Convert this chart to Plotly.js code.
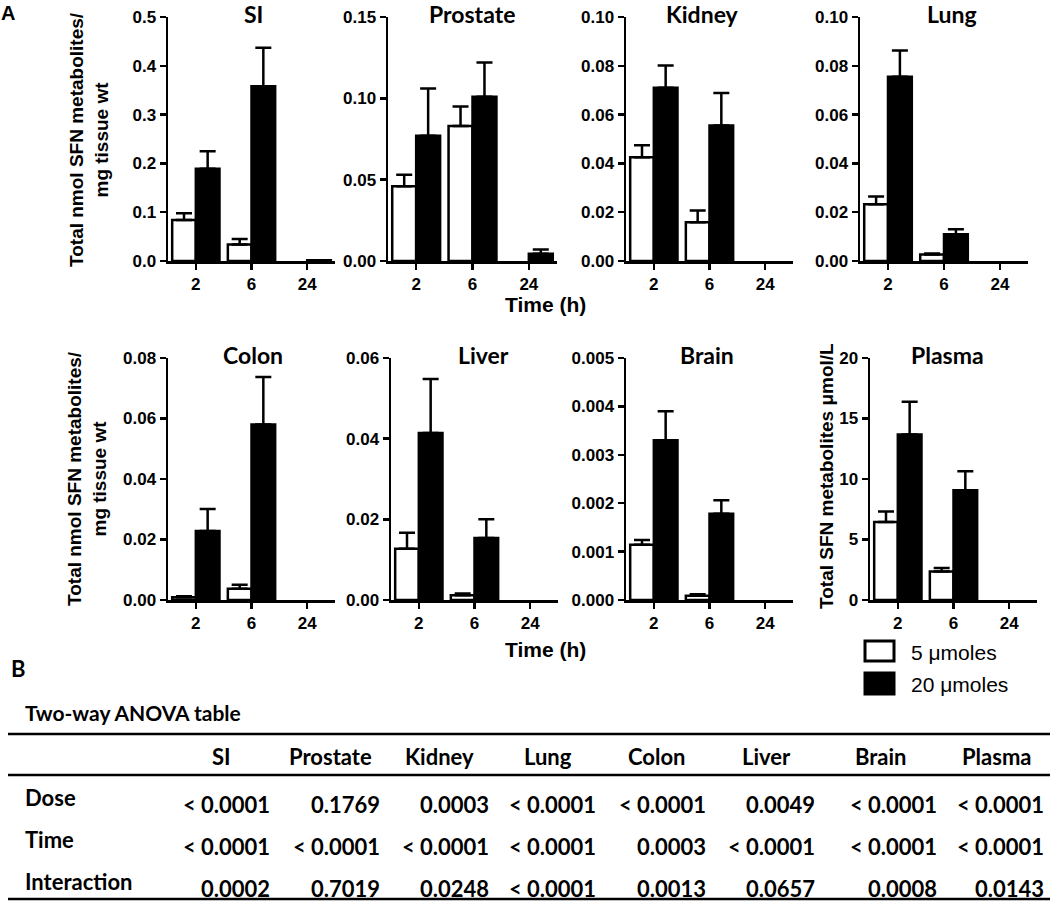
<!DOCTYPE html>
<html><head><meta charset="utf-8">
<script src="https://cdn.plot.ly/plotly-3.0.1.min.js"></script>
<style>body{margin:0;background:#fff}#chart{width:1050px;height:902px}</style>
</head><body><div id="chart"></div>
<script>
// ---------- DATA ----------
const times = ["2", "6", "24"];
const organs = ["SI", "Prostate", "Kidney", "Lung", "Colon", "Liver", "Brain", "Plasma"];
const seriesNames = ["5 \u03bcmoles", "20 \u03bcmoles"];

// mean values and upper SEM for each dose
const si_5 = [0.084, 0.034, 0];        const si_5_err = [0.014, 0.011, 0];
const si_20 = [0.189, 0.358, 0.0015];  const si_20_err = [0.036, 0.079, 0];
const prostate_5 = [0.046, 0.083, 0];  const prostate_5_err = [0.007, 0.012, 0];
const prostate_20 = [0.077, 0.101, 0.0045]; const prostate_20_err = [0.029, 0.021, 0.0025];
const kidney_5 = [0.0425, 0.0159, 0];  const kidney_5_err = [0.0049, 0.0048, 0];
const kidney_20 = [0.071, 0.0555, 0];  const kidney_20_err = [0.0091, 0.0134, 0];
const lung_5 = [0.0233, 0.0027, 0];    const lung_5_err = [0.0031, 0.0004, 0];
const lung_20 = [0.0755, 0.011, 0];    const lung_20_err = [0.0108, 0.002, 0];
const colon_5 = [0.0009, 0.0037, 0];   const colon_5_err = [0.0003, 0.0013, 0];
const colon_20 = [0.0228, 0.058, 0];   const colon_20_err = [0.0073, 0.0157, 0];
const liver_5 = [0.0127, 0.0012, 0];   const liver_5_err = [0.004, 0.0004, 0];
const liver_20 = [0.0414, 0.0154, 0];  const liver_20_err = [0.0134, 0.0046, 0];
const brain_5 = [0.00114, 0.00009, 0]; const brain_5_err = [0.0001, 0.00003, 0];
const brain_20 = [0.0033, 0.00178, 0]; const brain_20_err = [0.0006, 0.00028, 0];
const plasma_5 = [6.44, 2.35, 0];      const plasma_5_err = [0.88, 0.3, 0];
const plasma_20 = [13.67, 9.06, 0];    const plasma_20_err = [2.71, 1.58, 0];

// y-axis tick values
const si_ticks = [0, 0.1, 0.2, 0.3, 0.4, 0.5];
const prostate_ticks = [0, 0.05, 0.10, 0.15];
const kidney_ticks = [0, 0.02, 0.04, 0.06, 0.08, 0.10];
const lung_ticks = [0, 0.02, 0.04, 0.06, 0.08, 0.10];
const colon_ticks = [0, 0.02, 0.04, 0.06, 0.08];
const liver_ticks = [0, 0.02, 0.04, 0.06];
const brain_ticks = [0, 0.001, 0.002, 0.003, 0.004, 0.005];
const plasma_ticks = [0, 5, 10, 15, 20];

// ANOVA table
const anovaRows = ["Dose", "Time", "Interaction"];
const anovaDose = ["< 0.0001", "0.1769", "0.0003", "< 0.0001", "< 0.0001", "0.0049", "< 0.0001", "< 0.0001"];
const anovaTime = ["< 0.0001", "< 0.0001", "< 0.0001", "< 0.0001", "0.0003", "< 0.0001", "< 0.0001", "< 0.0001"];
const anovaInteraction = ["0.0002", "0.7019", "0.0248", "< 0.0001", "0.0013", "0.0657", "0.0008", "0.0143"];

// ---------- LAYOUT HELPERS ----------
const W = 1050, H = 902;
const px = v => v / W;
const py = v => 1 - v / H;

const panels = [
  {v5: si_5, e5: si_5_err, v20: si_20, e20: si_20_err, ticks: si_ticks, fmt: ".1f", xd: [168, 335], yd: [17, 261], tx: 253},
  {v5: prostate_5, e5: prostate_5_err, v20: prostate_20, e20: prostate_20_err, ticks: prostate_ticks, fmt: ".2f", xd: [388, 557], yd: [17, 261], tx: 472},
  {v5: kidney_5, e5: kidney_5_err, v20: kidney_20, e20: kidney_20_err, ticks: kidney_ticks, fmt: ".2f", xd: [626, 793], yd: [17, 261], tx: 702},
  {v5: lung_5, e5: lung_5_err, v20: lung_20, e20: lung_20_err, ticks: lung_ticks, fmt: ".2f", xd: [860, 1028], yd: [17, 261], tx: 952},
  {v5: colon_5, e5: colon_5_err, v20: colon_20, e20: colon_20_err, ticks: colon_ticks, fmt: ".2f", xd: [168, 335], yd: [358, 600], tx: 253},
  {v5: liver_5, e5: liver_5_err, v20: liver_20, e20: liver_20_err, ticks: liver_ticks, fmt: ".2f", xd: [391, 558], yd: [358, 600], tx: 483},
  {v5: brain_5, e5: brain_5_err, v20: brain_20, e20: brain_20_err, ticks: brain_ticks, fmt: ".3f", xd: [626, 793], yd: [358, 600], tx: 707},
  {v5: plasma_5, e5: plasma_5_err, v20: plasma_20, e20: plasma_20_err, ticks: plasma_ticks, fmt: "d", xd: [870, 1037], yd: [358, 600], tx: 947}
];

const arial = "Liberation Sans, Arial, sans-serif";
const calib = "Lato, Carlito, Calibri, sans-serif";
const tickFont = {family: arial, size: 17, weight: "bold", color: "#000"};

const data = [];
const layout = {
  width: W, height: H,
  margin: {l: 0, r: 0, t: 0, b: 0},
  paper_bgcolor: "#fff", plot_bgcolor: "rgba(0,0,0,0)",
  showlegend: false,
  barmode: "group", bargap: 0.15, bargroupgap: 0,
  annotations: [], shapes: []
};

panels.forEach((p, i) => {
  const n = i === 0 ? "" : String(i + 1);
  const xa = "x" + n, ya = "y" + n;
  [[p.v5, p.e5, "#ffffff"], [p.v20, p.e20, "#000000"]].forEach(([vals, errs, col], k) => {
    // zero means leave no visible bar (nothing is drawn for them in the figure)
    const shown = vals.map(v => v > 0 ? v : null);
    data.push({
      type: "bar", x: times, y: shown, xaxis: xa, yaxis: ya, name: seriesNames[k],
      marker: {color: col, line: {color: "#000", width: 2.5}},
      error_y: {type: "data", symmetric: false, array: errs,
                arrayminus: vals.map(() => 0),
                color: "#000", thickness: 2.5, width: 8},
      hoverinfo: "skip"
    });
  });
  layout["xaxis" + n] = {
    domain: [px(p.xd[0]), px(p.xd[1])], anchor: ya, type: "category",
    categoryarray: times, categoryorder: "array",
    range: [-0.5, 2.5], showline: true, linecolor: "#000", linewidth: 2.5,
    ticks: "outside", ticklen: 6, tickwidth: 2.5, tickcolor: "#000",
    showgrid: false, zeroline: false, tickfont: tickFont, fixedrange: true
  };
  const top = p.ticks[p.ticks.length - 1];
  layout["yaxis" + n] = {
    domain: [py(p.yd[1]), py(p.yd[0])], anchor: xa,
    range: [0, top], tickvals: p.ticks, tickformat: p.fmt,
    showline: true, linecolor: "#000", linewidth: 2.5,
    ticks: "outside", ticklen: 6, tickwidth: 2.5, tickcolor: "#000",
    showgrid: false, zeroline: false, tickfont: tickFont, fixedrange: true
  };
  layout.annotations.push({
    xref: "paper", yref: "paper", x: px(p.tx), y: py(p.yd[0] - 3),
    text: organs[i], showarrow: false, xanchor: "center", yanchor: "middle",
    font: {family: calib, size: 23, weight: "bold", color: "#000"}
  });
});

function ann(x, y, text, font, extra) {
  layout.annotations.push(Object.assign({
    xref: "paper", yref: "paper", x: px(x), y: py(y), text: text,
    showarrow: false, xanchor: "center", yanchor: "middle", font: font
  }, extra || {}));
}

const yTitleFont = {family: arial, size: 19, weight: "bold", color: "#000"};
ann(89, 140, "Total nmol SFN metabolites/<br>mg tissue wt", yTitleFont, {textangle: -90});
ann(87, 479, "Total nmol SFN metabolites/<br>mg tissue wt", yTitleFont, {textangle: -90});
ann(826, 476, "Total SFN metabolites \u03bcmol/L", yTitleFont, {textangle: -90});

const timeFont = {family: arial, size: 21, weight: "bold", color: "#000"};
ann(545, 304, "Time (h)", timeFont);
ann(545, 649, "Time (h)", timeFont);

ann(8, 13, "A", {family: arial, size: 20, weight: "bold", color: "#000"});
ann(18, 668, "B", {family: calib, size: 22, weight: "bold", color: "#000"});

// legend
const legFont = {family: arial, size: 21, color: "#000"};
layout.shapes.push({type: "rect", xref: "paper", yref: "paper", x0: px(865), x1: px(894), y0: py(641), y1: py(661),
  line: {color: "#000", width: 3}, fillcolor: "#fff"});
layout.shapes.push({type: "rect", xref: "paper", yref: "paper", x0: px(865), x1: px(894), y0: py(673), y1: py(694),
  line: {color: "#000", width: 3}, fillcolor: "#000"});
ann(909, 652, seriesNames[0], legFont, {xanchor: "left"});
ann(909, 684, seriesNames[1], legFont, {xanchor: "left"});

// ANOVA table
const tabFont = {family: calib, size: 22, weight: "bold", color: "#000"};
ann(23, 712, "Two-way ANOVA table", {family: calib, size: 21, weight: "bold", color: "#000"}, {xanchor: "left"});
[[734, 2.5], [775, 2.5], [899, 2.5]].forEach(([y, w]) => {
  layout.shapes.push({type: "line", xref: "paper", yref: "paper", x0: px(8), x1: 1, y0: py(y), y1: py(y),
    line: {color: "#000", width: w}});
});
const headX = [221, 330, 439, 548, 656, 766, 881, 996];
const valRight = [272, 382, 491, 598, 708, 817, 939, 1046];
organs.forEach((o, j) => ann(headX[j], 756, o, tabFont));
const rowLabelY = [797, 839, 881];
const rowValY = [804, 846, 888];
[anovaDose, anovaTime, anovaInteraction].forEach((row, r) => {
  ann(23, rowLabelY[r], anovaRows[r], tabFont, {xanchor: "left"});
  row.forEach((v, j) => ann(valRight[j], rowValY[r], v, tabFont, {xanchor: "right"}));
});

Plotly.newPlot("chart", data, layout, {displayModeBar: false, staticPlot: true});
</script>
</body></html>
